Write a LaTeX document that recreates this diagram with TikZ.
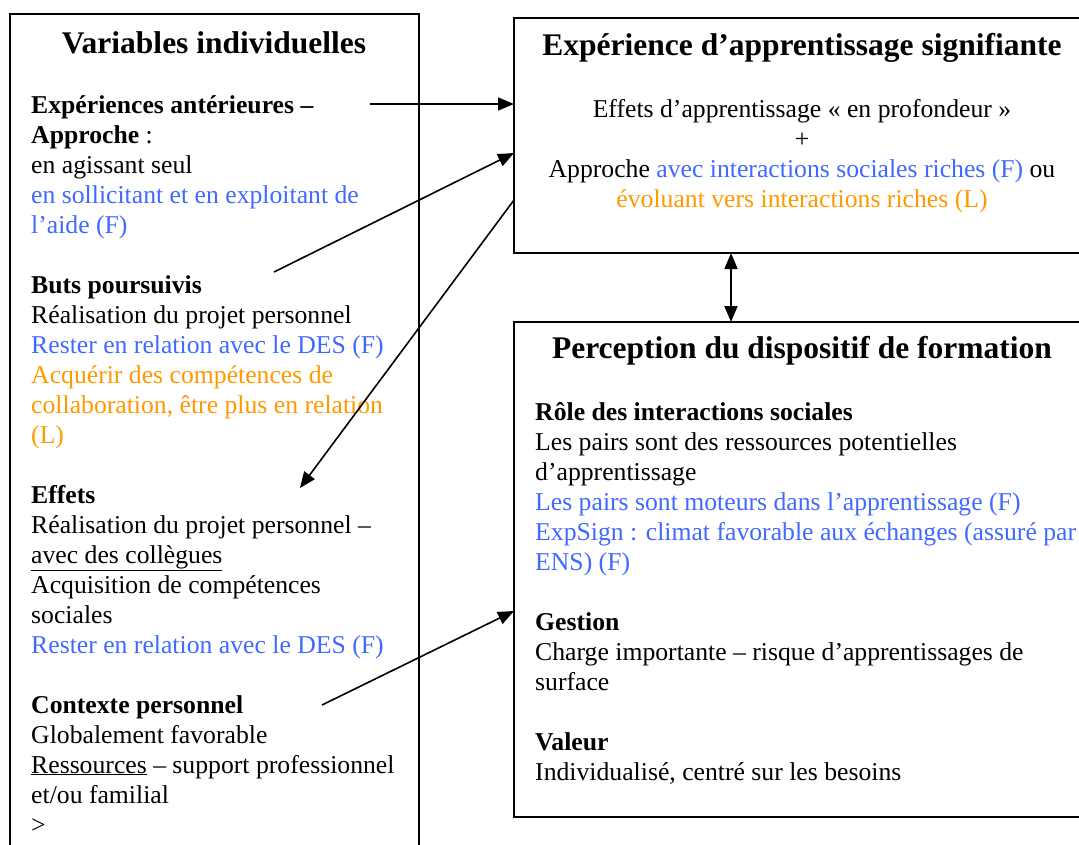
\documentclass[tikz,border=0pt]{standalone}
\usepackage{fontspec}
\setmainfont{Liberation Serif}
\usepackage{xcolor}
\usetikzlibrary{arrows.meta,positioning}
\definecolor{fblue}{RGB}{64,105,255}
\definecolor{lorange}{RGB}{255,153,0}

\begin{document}
\begin{tikzpicture}[x=1pt,y=-1pt,
		bigbox/.style={rectangle, draw=black, line width=1.5pt, inner sep=0pt, outer sep=0pt, anchor=north west},
		titletext/.style={font=\fontsize{31.5}{34}\selectfont\bfseries, inner sep=0pt, anchor=base},
		bodytext/.style={font=\fontsize{25.7}{30}\selectfont, inner sep=0pt, align=left, anchor=base west},
		link/.style={draw, line width=1.6pt, -{Triangle[length=16pt,width=13pt]}}
		]
		\useasboundingbox (0,0) rectangle (1079,844);
		\clip (0,0) rectangle (1079,844);
		
		% Boxes
		\node[bigbox, minimum width=409pt, minimum height=860pt] (Individual) at (10,14) {};
		\node[bigbox, minimum width=580pt, minimum height=235pt] (Experience) at (514,18) {};
		\node[bigbox, minimum width=580pt, minimum height=495pt] (Perception) at (514,322) {};
		
		% Titles
		\node[titletext] (IndividualTitle) at (214,53) {Variables individuelles};
		\node[titletext] (ExperienceTitle) at (802,55) {Expérience d’apprentissage signifiante};
		\node[titletext] (PerceptionTitle) at (802,358) {Perception du dispositif de formation};
		
		% Contents (placed by the baseline of their last line)
		\node[bodytext] (IndividualText) at (31,833) {\textbf{Expériences antérieures –}\\
			\textbf{Approche} :\\
			en agissant seul\\
			\textcolor{fblue}{en sollicitant et en exploitant de}\\
			\textcolor{fblue}{l’aide (F)}\\[30pt]
			\textbf{Buts poursuivis}\\
			Réalisation du projet personnel\\
			\textcolor{fblue}{Rester en relation avec le DES (F)}\\
			\textcolor{lorange}{Acquérir des compétences de}\\
			\textcolor{lorange}{collaboration, être plus en relation}\\
			\textcolor{lorange}{(L)}\\[30pt]
			\textbf{Effets}\\
			Réalisation du projet personnel –\\
			\underline{avec des collègues}\\
			Acquisition de compétences\\
			sociales\\
			\textcolor{fblue}{Rester en relation avec le DES (F)}\\[30pt]
			\textbf{Contexte personnel}\\
			Globalement favorable\\
			\underline{Ressources} – support professionnel\\
			et/ou familial\\
			>};
		\node[bodytext, align=center, anchor=base] (ExperienceText) at (802,207) {Effets d’apprentissage « en profondeur »\\
			+\\
			Approche \textcolor{fblue}{avec interactions sociales riches (F)} ou\\
			\textcolor{lorange}{évoluant vers interactions riches (L)}};
		\node[bodytext] (PerceptionText) at (535,780) {\textbf{Rôle des interactions sociales}\\
			Les pairs sont des ressources potentielles\\
			d’apprentissage\\
			\textcolor{fblue}{Les pairs sont moteurs dans l’apprentissage (F)}\\
			\textcolor{fblue}{ExpSign : climat favorable aux échanges (assuré par}\\
			\textcolor{fblue}{ENS) (F)}\\[30pt]
			\textbf{Gestion}\\
			Charge importante – risque d’apprentissages de\\
			surface\\[30pt]
			\textbf{Valeur}\\
			Individualisé, centré sur les besoins};
		
		% Arrow ends
		\coordinate (PriorOut) at (370,104);
		\coordinate (GoalsOut) at (274,272);
		\coordinate (EffectsIn) at (300,488);
		\coordinate (ContextOut) at (322,705);
		
		% Links
		\path[link] (PriorOut) -- ([yshift=-86pt]Experience.north west);
		\path[link] (GoalsOut) -- ([yshift=-135pt]Experience.north west);
		\path[link] ([yshift=-182pt]Experience.north west) -- (EffectsIn);
		\path[link] (ContextOut) -- ([yshift=-289pt]Perception.north west);
		\path[link, {Triangle[length=16pt,width=13pt]}-{Triangle[length=16pt,width=13pt]}] ([xshift=-73pt]Experience.south) -- ([xshift=-73pt]Perception.north);
	\end{tikzpicture}
\end{document}
